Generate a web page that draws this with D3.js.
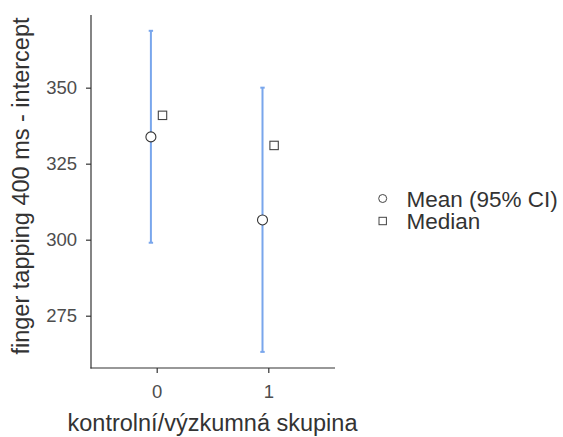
<!DOCTYPE html>
<html><head><meta charset="utf-8">
<script src="https://cdn.jsdelivr.net/npm/d3@7"></script>
<style>body{margin:0;background:#fff}svg{display:block}text{font-family:"Liberation Sans",Arial,sans-serif}</style>
</head><body><svg id="c" width="563" height="437"></svg>
<script>
const groups = ["0","1"];
const means = [333.8, 306.5];
const ciLow = [299.0, 263.1];
const ciHigh = [368.7, 350.0];
const medians = [340.9, 331.0];
const yTicks = [275, 300, 325, 350];
const legendLabels = ["Mean (95% CI)", "Median"];

const svg = d3.select("#c");
const L = 91, R = 335, T = 15, B = 368;
const x = d3.scalePoint().domain(groups).range([156.7, 268.3]);
const y = d3.scaleLinear().domain([257.8, 373.9]).range([B, T]);
const dodge = 5.8;
const blue = "#79a6ec", dark = "#333";

// axes
const ya = svg.append("g").attr("transform", `translate(${L},0)`)
  .call(d3.axisLeft(y).tickValues(yTicks).tickSize(5).tickPadding(9));
const xa = svg.append("g").attr("transform", `translate(0,${B})`)
  .call(d3.axisBottom(x).tickSize(5).tickPadding(12));
[ya, xa].forEach(a => {
  a.attr("font-size", null).attr("font-family", null);
  a.select(".domain").remove();
  a.selectAll(".tick line").attr("stroke", dark).attr("stroke-width", 1.2);
  a.selectAll(".tick text").attr("fill", "#4d4d4d").style("font-size", "18.5px");
});
svg.append("line").attr("x1", L).attr("x2", L).attr("y1", T).attr("y2", B + 0.6).attr("stroke", dark).attr("stroke-width", 1.2);
svg.append("line").attr("x1", L - 0.6).attr("x2", R).attr("y1", B).attr("y2", B).attr("stroke", dark).attr("stroke-width", 1.2);

// error bars
const g = svg.append("g");
groups.forEach((k, i) => {
  const cx = x(k) - dodge;
  g.append("line").attr("x1", cx).attr("x2", cx).attr("y1", y(ciLow[i])).attr("y2", y(ciHigh[i])).attr("stroke", blue).attr("stroke-width", 2);
  [ciLow[i], ciHigh[i]].forEach(v => g.append("line").attr("x1", cx - 2.2).attr("x2", cx + 2.2).attr("y1", y(v)).attr("y2", y(v)).attr("stroke", blue).attr("stroke-width", 2));
  g.append("circle").attr("cx", cx).attr("cy", y(means[i])).attr("r", 5).attr("fill", "#fff").attr("stroke", dark).attr("stroke-width", 1.1);
  g.append("rect").attr("x", x(k) + dodge - 4.2).attr("y", y(medians[i]) - 4.2).attr("width", 8.4).attr("height", 8.4).attr("fill", "#fff").attr("stroke", "#444").attr("stroke-width", 1.1);
});

// titles
svg.append("text").attr("x", 212.5).attr("y", 431).attr("text-anchor", "middle").attr("fill", "#333").style("font-size", "23.5px").text("kontrolní/výzkumná skupina");
svg.append("text").attr("transform", `translate(28.5,186) rotate(-90)`).attr("text-anchor", "middle").attr("fill", "#333").style("font-size", "23.5px").text("finger tapping 400 ms - intercept");

// legend
const lg = svg.append("g");
lg.append("circle").attr("cx", 382.7).attr("cy", 198.5).attr("r", 4).attr("fill", "#fff").attr("stroke", "#444").attr("stroke-width", 1);
lg.append("rect").attr("x", 379).attr("y", 217.3).attr("width", 7.4).attr("height", 7.4).attr("fill", "#fff").attr("stroke", "#444").attr("stroke-width", 1);
legendLabels.forEach((t, i) => lg.append("text").attr("x", 406.5).attr("y", 206.5 + i * 22.7).attr("fill", "#333").style("font-size", "22.5px").text(t));
</script></body></html>
